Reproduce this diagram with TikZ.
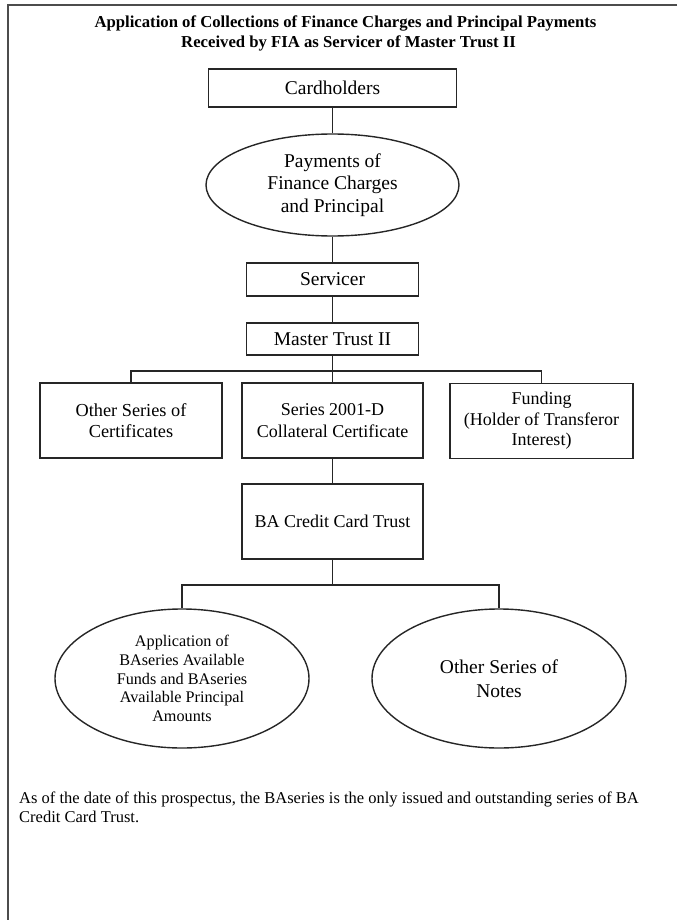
\documentclass[tikz,border=0pt]{standalone}
\usepackage{fontspec}
\setmainfont{Liberation Serif}
\usetikzlibrary{shapes.geometric}
\tikzset{
  boxnode/.style={draw=black!85, line width=1.4pt, rectangle, inner sep=0pt, align=center},
  ellnode/.style={draw=black!85, line width=1.4pt, ellipse, inner sep=0pt, align=center},
  link/.style={draw=black!85, line width=1.3pt},
  titlefont/.style={font=\bfseries\fontsize{16.7}{20}\selectfont, inner sep=0pt, anchor=base},
  bodyfont/.style={font=\fontsize{16.5}{19}\selectfont, inner sep=0pt, anchor=base west},
}
\begin{document}
\begin{tikzpicture}[x=1pt,y=-1pt]
\useasboundingbox (0,0) rectangle (677,920);
% page frame
\draw[line width=2.2pt, black!70] (677,5) -- (8,5) -- (8,920);

% title
\node[titlefont] (title1) at (345.5,28) {Application of Collections of Finance Charges and Principal Payments};
\node[titlefont] (title2) at (348.5,48) {Received by FIA as Servicer of Master Trust II};

% nodes
\node[boxnode, minimum width=248pt, minimum height=38pt, font=\fontsize{19.5}{22}\selectfont] (card) at (332.5,88) {Cardholders};
\node[ellnode, minimum width=253pt, minimum height=102pt, font=\fontsize{19.5}{22.5}\selectfont] (pay) at (332.5,185) {Payments of\\Finance Charges\\and Principal};
\node[boxnode, minimum width=172pt, minimum height=33pt, font=\fontsize{19.5}{22}\selectfont] (serv) at (332.5,279.5) {Servicer};
\node[boxnode, minimum width=172pt, minimum height=32pt, font=\fontsize{19.5}{22}\selectfont] (mt) at (332.5,339) {Master Trust II};

\node[boxnode, minimum width=182pt, minimum height=75pt, font=\fontsize{18.3}{21.5}\selectfont] (other) at (131,420.5) {Other Series of\\Certificates};
\node[boxnode, minimum width=181pt, minimum height=75pt, font=\fontsize{18}{21.5}\selectfont] (coll) at (332.5,420.5) {Series 2001-D\\Collateral Certificate};
\node[boxnode, minimum width=183pt, minimum height=75pt, font=\fontsize{18}{20.5}\selectfont] (fund) at (541.5,421) {Funding\\(Holder of Transferor\\Interest)};

\node[boxnode, minimum width=181pt, minimum height=75pt, font=\fontsize{18}{21}\selectfont] (ba) at (332.5,521.5) {BA Credit Card Trust};

\node[ellnode, minimum width=254pt, minimum height=139pt, font=\fontsize{16.2}{18.8}\selectfont] (appl) at (182,678.5) {Application of\\BAseries Available\\Funds and BAseries\\Available Principal\\Amounts};
\node[ellnode, minimum width=254pt, minimum height=139pt, font=\fontsize{19.5}{24}\selectfont] (notes) at (499,678.5) {Other Series of\\Notes};

% connectors
\coordinate (bar1) at (332.5,371);
\coordinate (bar2) at (332.5,585);
\draw[link] (card.south) -- (pay.north);
\draw[link] (pay.south) -- (serv.north);
\draw[link] (serv.south) -- (mt.north);
\draw[link] (mt.south) -- (bar1);
\draw[link] (other.north) |- (bar1) -| (fund.north);
\draw[link] (bar1) -- (coll.north);
\draw[link] (coll.south) -- (ba.north);
\draw[link] (ba.south) -- (bar2);
\draw[link] (appl.north) |- (bar2) -| (notes.north);

% note
\node[bodyfont] (note1) at (19,803) {As of the date of this prospectus, the BAseries is the only issued and outstanding series of BA};
\node[bodyfont] (note2) at (19,822) {Credit Card Trust.};
\end{tikzpicture}
\end{document}
